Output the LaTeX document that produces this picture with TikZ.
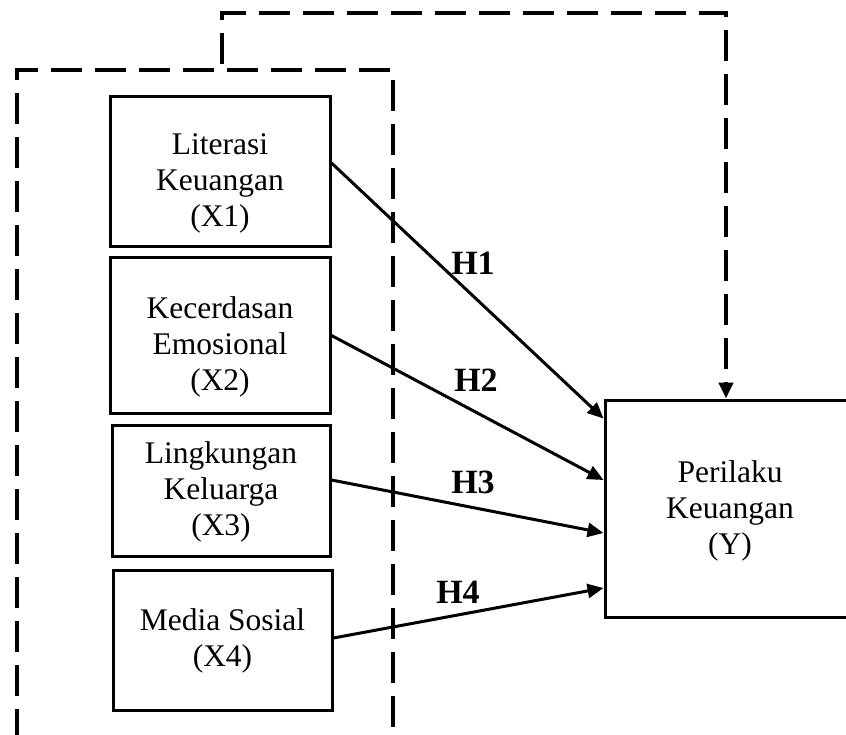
\documentclass[tikz,border=0pt]{standalone}
\usepackage{fontspec}
\setmainfont{Liberation Serif}
\usetikzlibrary{arrows.meta,calc}
\begin{document}
\begin{tikzpicture}[x=1pt,y=-1pt,
  varbox/.style={draw,line width=3pt,inner sep=0pt},
  vartext/.style={align=center,inner sep=0pt,font=\fontsize{31.5}{36}\selectfont},
  hlabel/.style={font=\fontsize{34}{37}\selectfont\bfseries,inner sep=0pt},
  dashline/.style={line width=4pt,dash pattern=on 31pt off 13pt},
  arr/.style={line width=3pt,-{Triangle[length=16pt,width=14pt]}}]
\clip (0,0) rectangle (846,735);
\fill[white] (0,0) rectangle (846,735);
% boxes
\node[varbox,minimum width=220pt,minimum height=150pt] (x1) at (220,172) {};
\node[vartext] (x1t) at (220,183) {Literasi\\Keuangan\\(X1)};
\node[varbox,minimum width=220pt,minimum height=155pt] (x2) at (220,335.5) {};
\node[vartext] (x2t) at (220,347) {Kecerdasan\\Emosional\\(X2)};
\node[varbox,minimum width=218pt,minimum height=131pt] (x3) at (221,490.5) {};
\node[vartext] (x3t) at (221,492) {Lingkungan\\Keluarga\\(X3)};
\node[varbox,minimum width=219pt,minimum height=140pt] (x4) at (222.5,640) {};
\node[vartext] (x4t) at (222.5,641) {Media Sosial\\(X4)};
\node[varbox,minimum width=250pt,minimum height=217pt] (y) at (730,508.5) {};
\node[vartext] (yt) at (730,511) {Perilaku\\Keuangan\\(Y)};
% dashed frame
\coordinate (fbl) at (17,740);
\coordinate (ftl) at (17,70);
\coordinate (ftr) at (393,70);
\coordinate (fbr) at (393,740);
\draw[dashline] (fbl) -- (ftl) -- (ftr) -- (fbr);
\coordinate (ds) at (222,64);
\coordinate (dt) at (222,13);
\coordinate (dr) at (726,13);
\draw[dashline,-{Triangle[length=16pt,width=14pt]}] (ds) -- (dt) -- (dr) -- (dr |- y.north);
% arrows
\draw[arr] ([yshift=9pt]x1.east) -- ([yshift=90pt]y.west);
\draw[arr] (x2.east) -- ([yshift=28.5pt]y.west);
\draw[arr] ([yshift=10.5pt]x3.east) -- ([yshift=-24.5pt]y.west);
\draw[arr] ([yshift=2pt]x4.east) -- ([yshift=-79.5pt]y.west);
% labels
\node[hlabel] (h1) at (473,263) {H1};
\node[hlabel] (h2) at (476,380) {H2};
\node[hlabel] (h3) at (473,482) {H3};
\node[hlabel] (h4) at (458,592) {H4};
\end{tikzpicture}
\end{document}
